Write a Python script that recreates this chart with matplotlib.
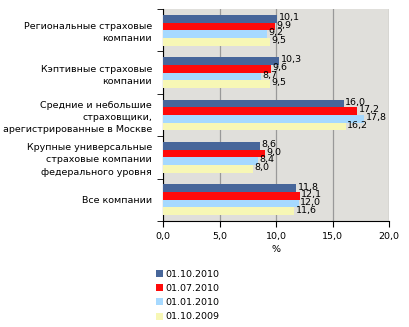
import matplotlib
matplotlib.use("Agg")
import matplotlib.pyplot as plt
import numpy as np
from matplotlib.patches import Patch

categories = [
    "Региональные страховые\nкомпании",
    "Кэптивные страховые\nкомпании",
    "Средние и небольшие\nстраховщики,\nарегистрированные в Москве",
    "Крупные универсальные\nстраховые компании\nфедерального уровня",
    "Все компании",
]
series_names = ["01.10.2010", "01.07.2010", "01.01.2010", "01.10.2009"]
values = {
    "01.10.2010": [10.1, 10.3, 16.0, 8.6, 11.8],
    "01.07.2010": [9.9, 9.6, 17.2, 9.0, 12.1],
    "01.01.2010": [9.2, 8.7, 17.8, 8.4, 12.0],
    "01.10.2009": [9.5, 9.5, 16.2, 8.0, 11.6],
}
colors = ["#47669A", "#FF0A0A", "#A6D9FF", "#F7F7B5"]
xticks = [0, 5, 10, 15, 20]

plt.rcParams['font.family'] = ['DejaVu Sans']
fs = 6.8

fig = plt.figure(figsize=(4.10, 3.27), dpi=100)
ax = fig.add_axes([163/410, 1-221/327, (389-163)/410, (221-9)/327])
ax.set_facecolor("#E0DFDB")

n = len(categories)
bh = 0.181
ypos = np.arange(n)
for j, s in enumerate(series_names):
    yy = ypos - 1.5*bh + j*bh
    ax.barh(yy, values[s], height=bh, color=colors[j], edgecolor='none', zorder=3)
    for y, v in zip(yy, values[s]):
        ax.text(v + 0.12, y - 0.03, f"{v:.1f}".replace('.', ','), fontsize=fs,
                va='center', ha='left', zorder=4)

ax.set_ylim(n - 0.5, -0.5)
ax.set_xlim(0, 20)
ax.set_xticks(xticks)
ax.set_xticklabels([f"{t:.1f}".replace('.', ',') for t in xticks], fontsize=fs)
ax.set_yticks(ypos)
ax.set_yticklabels(categories, fontsize=fs, ha='right', multialignment='right',
                   linespacing=1.45)
ax.tick_params(axis='y', length=0, pad=8)
ax.set_yticks(np.arange(-0.5, n, 1.0), minor=True)
ax.tick_params(axis='y', which='minor', length=4, direction='out')
ax.tick_params(axis='x', length=4, direction='out', pad=4)
ax.grid(axis='x', color='#999999', linewidth=0.9, zorder=1)
for sp in ['top', 'right']:
    ax.spines[sp].set_visible(False)
ax.spines['left'].set_linewidth(0.8)
ax.spines['bottom'].set_linewidth(0.8)
ax.set_xlabel("%", fontsize=fs, labelpad=3)

handles = [Patch(facecolor=c, edgecolor='none') for c in colors]
fig.legend(handles, series_names, loc='upper left', bbox_to_anchor=(152/410, 1-266/327),
           frameon=False, fontsize=fs, handlelength=0.75, handleheight=0.75,
           handletextpad=0.3, labelspacing=0.55, borderaxespad=0)

fig.savefig("out.png", dpi=100)
